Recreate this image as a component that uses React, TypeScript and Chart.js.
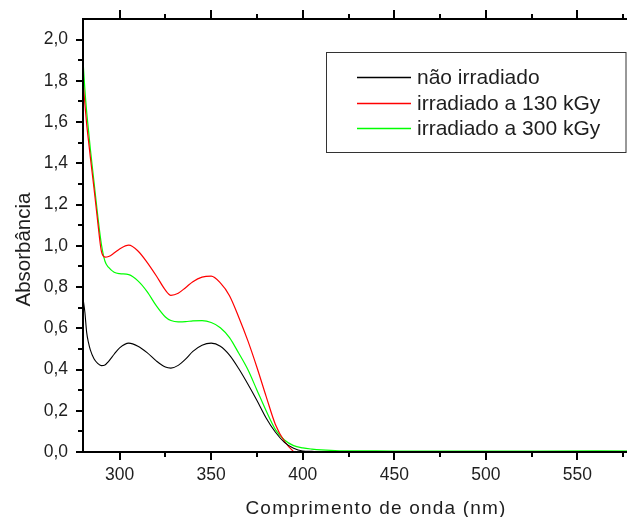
import React, { useEffect, useRef } from "react";
import { Chart, registerables } from "chart.js";

Chart.register(...registerables);

// ---------- data ----------
const wavelengths = [
  280, 281, 282, 283, 284, 286, 288, 290, 292, 294, 297, 300, 305, 310, 315, 320, 325,
  328, 332, 336, 340, 345, 350, 355, 360, 365, 370, 375, 380, 385, 390, 395, 400, 405,
  410, 420, 440, 500, 560, 600,
];
const naoIrradiado = [
  0.745, 0.68, 0.58, 0.53, 0.495, 0.452, 0.43, 0.419, 0.422, 0.44, 0.474, 0.505, 0.528,
  0.513, 0.482, 0.442, 0.412, 0.407, 0.42, 0.45, 0.488, 0.518, 0.528, 0.513, 0.47,
  0.405, 0.33, 0.25, 0.165, 0.097, 0.047, 0.018, 0.005, 0.003, 0.002, 0.002, 0.001,
  0.001, 0.001, 0.001,
];
const irradiado130 = [
  1.8, 1.69, 1.59, 1.51, 1.43, 1.28, 1.12, 0.975, 0.945, 0.948, 0.965, 0.985, 1.003,
  0.975, 0.92, 0.855, 0.785, 0.76, 0.77, 0.797, 0.826, 0.848, 0.853, 0.82, 0.758,
  0.655, 0.54, 0.41, 0.27, 0.135, 0.052, 0.002, -0.03, -0.03, -0.03, -0.03, -0.03,
  -0.03, -0.03, -0.03,
];
const irradiado300 = [
  1.9, 1.76, 1.65, 1.56, 1.47, 1.31, 1.15, 1.01, 0.925, 0.895, 0.872, 0.865, 0.86,
  0.83, 0.778, 0.71, 0.655, 0.638, 0.631, 0.632, 0.636, 0.637, 0.628, 0.603, 0.555,
  0.48, 0.4, 0.3, 0.2, 0.11, 0.058, 0.031, 0.02, 0.014, 0.01, 0.006, 0.005, 0.004,
  0.005, 0.004,
];
const seriesLabels = ["não irradiado", "irradiado a 130 kGy", "irradiado a 300 kGy"];
const seriesColors = ["#000000", "#ff0000", "#00ff00"];
const xLabelTicks = [300, 350, 400, 450, 500, 550];
const xMajorTicks = [300, 350, 400, 450, 500, 550, 600];
const xMinorTicks = [325, 375, 425, 475, 525, 575];
const yMajorTicks = [0, 0.2, 0.4, 0.6, 0.8, 1.0, 1.2, 1.4, 1.6, 1.8, 2.0];
const yMinorTicks = [0.1, 0.3, 0.5, 0.7, 0.9, 1.1, 1.3, 1.5, 1.7, 1.9];
const xTitle = "Comprimento de onda (nm)";
const yTitle = "Absorbância";

const FONT = "'Liberation Sans', Arial, sans-serif";
const TEXT = "#1e1e1e";

const CANVAS_W = 680;
const CANVAS_H = 517;

const framePlugin = {
  id: "frameAndDecor",
  afterDraw(chart: any) {
    const { ctx, chartArea } = chart;
    const xs = chart.scales.x;
    const ys = chart.scales.y;
    const { left, right, top, bottom } = chartArea;
    ctx.save();
    // frame
    ctx.strokeStyle = "#000";
    ctx.lineWidth = 2;
    ctx.beginPath();
    ctx.moveTo(left, top);
    ctx.lineTo(left, bottom);
    ctx.lineTo(right, bottom);
    ctx.lineTo(right, top);
    ctx.closePath();
    ctx.stroke();
    // ticks
    ctx.beginPath();
    xMajorTicks.forEach((v) => {
      const px = Math.round(xs.getPixelForValue(v));
      ctx.moveTo(px, bottom);
      ctx.lineTo(px, bottom + 8);
      ctx.moveTo(px, top);
      ctx.lineTo(px, top - 9);
    });
    xMinorTicks.forEach((v) => {
      const px = Math.round(xs.getPixelForValue(v));
      ctx.moveTo(px, bottom);
      ctx.lineTo(px, bottom + 5);
      ctx.moveTo(px, top);
      ctx.lineTo(px, top - 5);
    });
    yMajorTicks.forEach((v) => {
      const py = Math.round(ys.getPixelForValue(v));
      ctx.moveTo(left, py);
      ctx.lineTo(left - 7, py);
    });
    yMinorTicks.forEach((v) => {
      const py = Math.round(ys.getPixelForValue(v));
      ctx.moveTo(left, py);
      ctx.lineTo(left - 5, py);
    });
    ctx.stroke();

    // axis titles
    ctx.fillStyle = TEXT;
    ctx.font = `19px ${FONT}`;
    (ctx as any).letterSpacing = "1.2px";
    ctx.textAlign = "center";
    ctx.textBaseline = "alphabetic";
    ctx.fillText(xTitle, 376, 514);
    (ctx as any).letterSpacing = "0px";
    ctx.save();
    ctx.translate(30, 249.5);
    ctx.rotate(-Math.PI / 2);
    ctx.font = `20.5px ${FONT}`;
    ctx.textAlign = "center";
    ctx.textBaseline = "alphabetic";
    ctx.fillText(yTitle, 0, 0);
    ctx.restore();

    // legend
    ctx.strokeStyle = "#333";
    ctx.lineWidth = 1;
    ctx.strokeRect(326.5, 52.5, 299.5, 100);
    const rowsY = [77, 103, 128];
    seriesLabels.forEach((lab, i) => {
      ctx.strokeStyle = seriesColors[i];
      ctx.lineWidth = 1.3;
      ctx.beginPath();
      ctx.moveTo(357, rowsY[i] + 0.5);
      ctx.lineTo(411, rowsY[i] + 0.5);
      ctx.stroke();
      ctx.fillStyle = TEXT;
      ctx.font = `21px ${FONT}`;
      ctx.textAlign = "left";
      ctx.textBaseline = "middle";
      ctx.fillText(lab, 417, rowsY[i] + 1);
    });
    ctx.restore();
  },
};

export default function App() {
  const ref = useRef<HTMLCanvasElement | null>(null);
  useEffect(() => {
    if (!ref.current) return;
    const mk = (arr: number[]) => wavelengths.map((x, i) => ({ x, y: arr[i] }));
    const seriesData = [naoIrradiado, irradiado130, irradiado300];
    const chart = new Chart(ref.current, {
      type: "line",
      data: {
        datasets: seriesData.map((arr, i) => ({
          label: seriesLabels[i],
          data: mk(arr),
          borderColor: seriesColors[i],
          backgroundColor: seriesColors[i],
          borderWidth: i === 0 ? 1.1 : 1.2,
          pointRadius: 0,
          cubicInterpolationMode: "monotone" as const,
          fill: false,
        })),
      },
      options: {
        animation: false,
        responsive: false,
        devicePixelRatio: 1,
        layout: { padding: { top: 19, right: CANVAS_W - 669, left: 0, bottom: 0 } },
        plugins: { legend: { display: false }, tooltip: { enabled: false } },
        scales: {
          x: {
            type: "linear",
            min: 280,
            max: 600,
            grid: { display: false, drawTicks: false },
            border: { display: false },
            afterBuildTicks: (s: any) => {
              s.ticks = xLabelTicks.map((v) => ({ value: v }));
            },
            afterFit: (s: any) => {
              s.height = CANVAS_H - 452;
              s.paddingLeft = 0;
              s.paddingRight = 0;
            },
            ticks: {
              autoSkip: false,
              maxRotation: 0,
              padding: 13,
              color: TEXT,
              font: { family: FONT, size: 17.5 },
              callback: (v: any) => String(v),
            },
          },
          y: {
            type: "linear",
            min: 0,
            max: 2.1,
            grid: { display: false, drawTicks: false },
            border: { display: false },
            afterBuildTicks: (s: any) => {
              s.ticks = yMajorTicks.map((v) => ({ value: v }));
            },
            afterFit: (s: any) => {
              s.width = 83;
              s.paddingTop = 0;
              s.paddingBottom = 0;
            },
            ticks: {
              autoSkip: false,
              padding: 15,
              color: TEXT,
              font: { family: FONT, size: 17.5 },
              callback: (v: any) => Number(v).toFixed(1).replace(".", ","),
            },
          },
        },
      },
      plugins: [framePlugin],
    });
    return () => chart.destroy();
  }, []);
  return (
    <div
      style={{
        position: "fixed",
        left: 0,
        top: 0,
        width: 627,
        height: 517,
        overflow: "hidden",
        background: "#fff",
      }}
    >
      <canvas ref={ref} width={CANVAS_W} height={CANVAS_H} style={{ display: "block" }} />
    </div>
  );
}
